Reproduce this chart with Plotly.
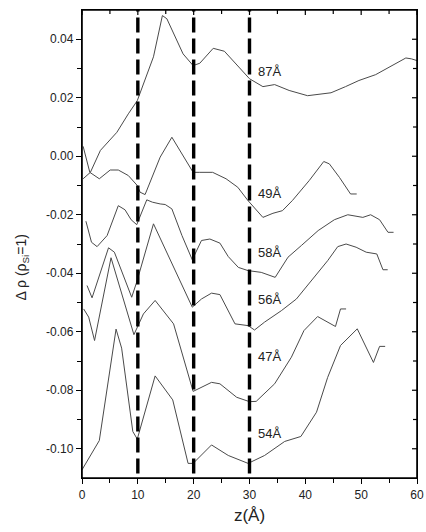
import plotly.graph_objects as go

# ---- data ----
z_87 = [0.2, 1.5, 3.3, 6.25, 8.3, 9.9, 12.8, 14.4, 15.2, 18.1, 19.9, 21.1, 23.5, 25.5, 30.0, 32.4, 34.5, 37.1, 40.4, 44.6, 47.2, 49.6, 52.6, 55.0, 58.0, 59.0, 60.0]
d_87 = [-0.0077, -0.0055, 0.002, 0.0082, 0.0145, 0.019, 0.034, 0.0481, 0.047, 0.035, 0.031, 0.0318, 0.0369, 0.0359, 0.0265, 0.0238, 0.0245, 0.0225, 0.0207, 0.0217, 0.0238, 0.0259, 0.0279, 0.0304, 0.0336, 0.0333, 0.0327]

z_49 = [0.2, 1.4, 3.1, 5.05, 6.5, 8.3, 9.9, 10.4, 11.3, 14.0, 16.1, 17.9, 19.9, 21.1, 23.4, 25.8, 27.9, 29.7, 32.4, 34.2, 35.9, 37.7, 40.7, 43.3, 44.3, 46.1, 48.1, 49.2]
d_49 = [0.0034, -0.0055, -0.0077, -0.0047, -0.0047, -0.0066, -0.010, -0.0123, -0.0131, -0.0003, 0.0065, 0.0008, -0.0055, -0.0055, -0.0055, -0.0077, -0.0106, -0.0151, -0.0209, -0.0195, -0.0186, -0.0151, -0.0083, -0.0018, -0.0026, -0.0072, -0.0129, -0.0129]

z_58 = [0.7, 1.7, 2.7, 4.5, 6.5, 7.7, 8.8, 9.8, 11.6, 12.6, 14.0, 14.9, 16.1, 17.9, 19.75, 21.4, 22.9, 24.7, 26.2, 28.0, 29.75, 32.1, 34.6, 36.9, 39.3, 42.3, 45.2, 47.6, 50.3, 51.7, 53.3, 54.8, 55.8]
d_58 = [-0.0222, -0.0294, -0.0309, -0.0271, -0.0169, -0.0183, -0.0217, -0.0234, -0.0149, -0.0157, -0.0163, -0.0165, -0.018, -0.0271, -0.0354, -0.0288, -0.0283, -0.0297, -0.0343, -0.038, -0.0391, -0.0397, -0.0414, -0.0345, -0.0305, -0.0254, -0.0217, -0.020, -0.0209, -0.020, -0.0217, -0.026, -0.026]

z_56 = [0.9, 1.8, 4.75, 5.8, 8.9, 9.8, 12.8, 19.75, 21.4, 23.2, 24.7, 27.4, 29.75, 30.9, 32.7, 35.7, 38.4, 41.1, 44.0, 45.8, 47.3, 49.1, 50.9, 52.8, 53.9, 54.75]
d_56 = [-0.0442, -0.0484, -0.0313, -0.0328, -0.0482, -0.043, -0.0231, -0.0516, -0.0488, -0.0468, -0.0473, -0.0573, -0.0579, -0.0594, -0.0567, -0.0528, -0.0488, -0.0425, -0.0357, -0.0309, -0.030, -0.0311, -0.0328, -0.0334, -0.0388, -0.0388]

z_47 = [0.3, 1.2, 2.25, 5.2, 9.3, 11.0, 13.1, 16.4, 19.9, 23.2, 24.7, 27.7, 30.0, 31.2, 34.5, 37.5, 39.75, 42.2, 45.4, 46.3, 47.3]
d_47 = [-0.0522, -0.055, -0.063, -0.0347, -0.061, -0.0539, -0.0493, -0.0573, -0.0804, -0.0773, -0.0778, -0.0824, -0.0839, -0.0838, -0.0778, -0.0687, -0.0596, -0.0548, -0.0582, -0.0522, -0.0522]

z_54 = [0.0, 3.1, 6.1, 7.1, 9.1, 9.9, 13.1, 16.25, 19.0, 19.9, 23.2, 24.7, 26.2, 29.75, 32.7, 36.3, 39.2, 42.0, 44.0, 46.3, 49.3, 52.2, 53.3, 54.3]
d_54 = [-0.1072, -0.0972, -0.0591, -0.0656, -0.0941, -0.0967, -0.0751, -0.0833, -0.105, -0.105, -0.0987, -0.1006, -0.1023, -0.105, -0.1023, -0.0975, -0.0958, -0.0875, -0.0756, -0.0647, -0.059, -0.0705, -0.065, -0.065]

series_names = ["87Å", "49Å", "58Å", "56Å", "47Å", "54Å"]
series_z = [z_87, z_49, z_58, z_56, z_47, z_54]
series_d = [d_87, d_49, d_58, d_56, d_47, d_54]
label_z = [31.2, 31.2, 31.2, 31.2, 31.2, 31.2]
label_d = [0.029, -0.0128, -0.033, -0.049, -0.0685, -0.0948]

guide_z = [10, 20, 30]

x_ticks = [0, 10, 20, 30, 40, 50, 60]
x_minor = [5, 15, 25, 35, 45, 55]
y_ticks = [-0.10, -0.08, -0.06, -0.04, -0.02, 0.00, 0.02, 0.04]
y_minor = [-0.09, -0.07, -0.05, -0.03, -0.01, 0.01, 0.03]
y_ticktext = ["-0.10", "-0.08", "-0.06", "-0.04", "-0.02", "0.00", "0.02", "0.04"]

X_RANGE = [0, 60]
Y_RANGE = [-0.11, 0.05]

W, H = 426, 532
M = dict(l=82, r=9, t=10, b=54)
PLOT_W = W - M["l"] - M["r"]
PLOT_H = H - M["t"] - M["b"]

fig = go.Figure()
for name, zs, ds in zip(series_names, series_z, series_d):
    fig.add_trace(go.Scatter(x=zs, y=ds, mode="lines", name=name,
                             line=dict(color="#4a4a4a", width=1), showlegend=False,
                             hoverinfo="skip"))

for gz in guide_z:
    fig.add_shape(type="line", x0=gz, x1=gz, y0=-0.1085, y1=Y_RANGE[1],
                  xref="x", yref="y",
                  line=dict(color="black", width=3.4, dash="15px,6px"))

# full frame box
fig.add_shape(type="rect", xref="paper", yref="paper", x0=0, x1=1, y0=0, y1=1,
              line=dict(color="black", width=1.6), fillcolor="rgba(0,0,0,0)",
              layer="above")

# inward-pointing ticks on the top and right frame (like the original's box)
tick_line = dict(color="black", width=1.2)
for tv, ln in [(v, 5) for v in x_ticks] + [(v, 4) for v in x_minor]:
    fig.add_shape(type="line", xref="x", yref="paper", x0=tv, x1=tv,
                  y0=1, y1=1 - ln / PLOT_H, line=tick_line)
for tv, ln in [(v, 5) for v in y_ticks] + [(v, 4) for v in y_minor]:
    fig.add_shape(type="line", xref="paper", yref="y", y0=tv, y1=tv,
                  x0=1, x1=1 - ln / PLOT_W, line=tick_line)

for name, lz, ld in zip(series_names, label_z, label_d):
    fig.add_annotation(x=lz, y=ld, text=name, showarrow=False, xanchor="left",
                       yanchor="middle", font=dict(family="Arial", size=13, color="#222"))

fig.add_annotation(xref="paper", yref="paper", x=-0.179, y=0.45,
                   text="Δ ρ (ρ<sub>Si</sub>=1)", textangle=-90, showarrow=False,
                   xanchor="center", yanchor="middle",
                   font=dict(family="Arial", size=14, color="#222"))

axis_font = dict(family="Arial", size=12, color="#222")

fig.update_layout(
    width=W, height=H,
    margin=dict(**M, autoexpand=False),
    paper_bgcolor="white", plot_bgcolor="white",
    xaxis=dict(range=X_RANGE, tickvals=x_ticks, ticks="outside", ticklen=5,
               tickwidth=1, tickcolor="black", showline=True, mirror=True,
               linecolor="black", linewidth=1.3, showgrid=False, zeroline=False,
               tickfont=axis_font, automargin=False,
               minor=dict(ticks="outside", tickvals=x_minor, ticklen=4, tickcolor="black"),
               title=dict(text="z(Å)", font=dict(family="Arial", size=17, color="#222"),
                          standoff=8)),
    yaxis=dict(range=Y_RANGE, tickvals=y_ticks, ticktext=y_ticktext, ticks="outside",
               ticklen=5, tickwidth=1, tickcolor="black", showline=True, mirror=True,
               linecolor="black", linewidth=1.3, showgrid=False, zeroline=False,
               tickfont=axis_font, automargin=False,
               minor=dict(ticks="outside", tickvals=y_minor, ticklen=4, tickcolor="black")),
)

# remove the browser's default 8px body margin so the 426x532 figure fits the window
fig.write_html("out.html", config={"displayModeBar": False},
               post_script="document.body.style.margin='0';document.body.style.overflow='hidden';")
